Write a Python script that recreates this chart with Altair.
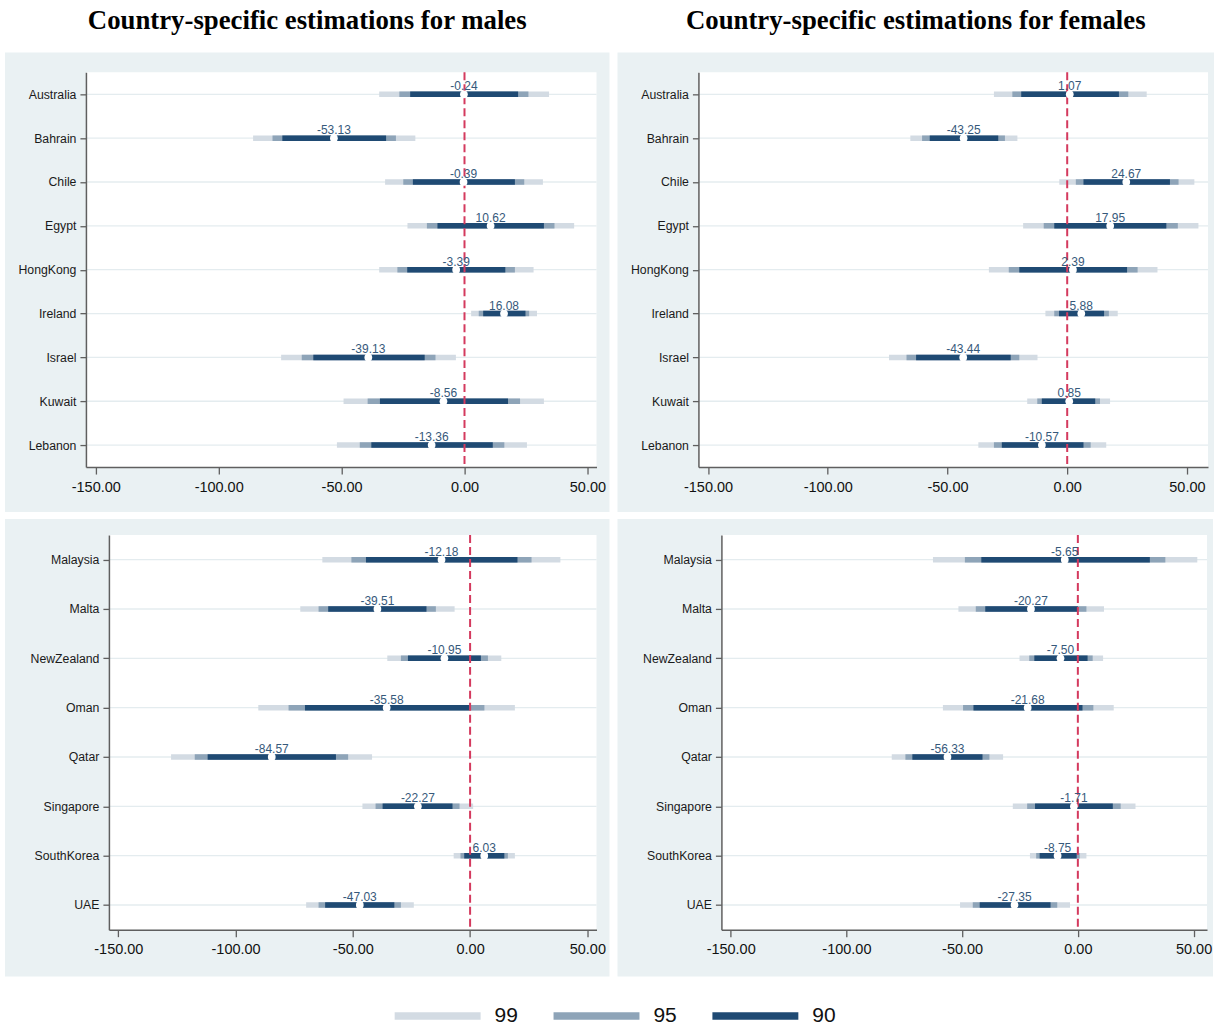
import altair as alt
import pandas as pd

# ---------------------------------------------------------------- data
countries_top = ["Australia", "Bahrain", "Chile", "Egypt", "HongKong",
                 "Ireland", "Israel", "Kuwait", "Lebanon"]
countries_bottom = ["Malaysia", "Malta", "NewZealand", "Oman", "Qatar",
                    "Singapore", "SouthKorea", "UAE"]

# males, first block of countries
m_top_est = [-0.24, -53.13, -0.39, 10.62, -3.39, 16.08, -39.13, -8.56, -13.36]
m_top_lo99 = [-34.7, -86.0, -32.3, -23.2, -34.7, 2.7, -74.6, -49.2, -51.9]
m_top_hi99 = [34.4, -20.0, 31.9, 44.6, 28.1, 29.5, -3.5, 32.3, 25.4]
m_top_lo95 = [-26.5, -78.1, -24.9, -15.3, -27.3, 5.8, -66.2, -39.4, -42.6]
m_top_hi95 = [26.0, -27.9, 24.3, 36.6, 20.5, 26.3, -11.8, 22.6, 16.2]
m_top_lo90 = [-22.1, -74.1, -21.0, -11.0, -23.3, 7.6, -61.5, -34.4, -37.9]
m_top_hi90 = [21.8, -31.9, 20.5, 32.3, 16.6, 24.8, -16.2, 17.7, 11.5]

# females, first block of countries
f_top_est = [1.07, -43.25, 24.67, 17.95, 2.39, 5.88, -43.44, 0.85, -10.57]
f_top_lo99 = [-30.6, -65.5, -3.3, -18.4, -32.7, -9.1, -74.4, -16.7, -37.1]
f_top_hi99 = [33.2, -20.8, 53.1, 54.8, 37.7, 21.1, -12.4, 17.9, 16.3]
f_top_lo95 = [-22.9, -60.6, 3.6, -9.8, -24.4, -5.4, -67.1, -12.5, -30.6]
f_top_hi95 = [25.5, -26.0, 46.5, 46.2, 29.4, 17.4, -20.0, 13.7, 9.8]
f_top_lo90 = [-19.2, -57.4, 6.8, -5.4, -20.0, -3.4, -63.1, -10.6, -27.3]
f_top_hi90 = [21.6, -28.8, 42.9, 41.4, 25.0, 15.4, -23.6, 11.7, 6.8]

# males, second block of countries
m_bot_est = [-12.18, -39.51, -10.95, -35.58, -84.57, -22.27, 6.03, -47.03]
m_bot_lo99 = [-63.0, -72.4, -35.3, -90.3, -127.5, -45.9, -7.0, -69.9]
m_bot_hi99 = [38.5, -6.6, 13.3, 19.1, -41.8, 1.3, 19.1, -24.0]
m_bot_lo95 = [-50.6, -64.6, -29.5, -77.4, -117.4, -40.3, -4.1, -64.6]
m_bot_hi95 = [26.2, -14.6, 7.6, 6.1, -52.0, -4.5, 16.1, -29.5]
m_bot_lo90 = [-44.4, -60.5, -26.5, -70.4, -111.9, -37.3, -2.5, -61.8]
m_bot_hi90 = [20.2, -18.6, 4.6, -0.3, -57.2, -7.5, 14.6, -32.3]

# females, second block of countries
f_bot_est = [-5.65, -20.27, -7.50, -21.68, -56.33, -1.71, -8.75, -27.35]
f_bot_lo99 = [-62.6, -51.6, -25.2, -58.3, -80.4, -28.1, -20.7, -50.9]
f_bot_hi99 = [51.6, 11.3, 10.9, 15.5, -32.3, 24.9, 3.7, -3.4]
f_bot_lo95 = [-48.8, -44.1, -21.0, -49.6, -74.5, -21.9, -18.0, -45.4]
f_bot_hi95 = [37.8, 3.7, 6.4, 6.7, -38.2, 18.5, 0.8, -8.9]
f_bot_lo90 = [-41.7, -40.0, -18.8, -45.1, -71.5, -18.5, -16.5, -42.4]
f_bot_hi90 = [31.1, 0.0, 4.2, 2.0, -41.2, 15.1, -0.5, -11.8]

x_ticks = [-150, -100, -50, 0, 50]
levels = ["99", "95", "90"]

# ---------------------------------------------------------------- style
SANS = "Liberation Sans"
SERIF = "Liberation Serif"
PANEL_BG = "#eaf1f3"
GRID = "#e4ecef"
AXIS_GRAY = "#5f5f5f"
LEVEL_COLORS = ["#d3dbe3", "#8ea4b8", "#1f4a73"]
ZERO_RED = "#d43a5e"
VALUE_TEXT = "#36597b"
HYPHEN_LABEL = "replace(format(datum.value, '.2f'), '\u2212', '-')"

legend = alt.Legend(
    title=None, orient="none", legendX=389, legendY=897.5,
    direction="horizontal", columns=3, symbolType="stroke",
    symbolSize=7396, symbolStrokeWidth=7.5, labelFont=SANS,
    labelFontSize=21, labelColor="#111111", labelOffset=10,
    columnPadding=20,
)

one = alt.Data(values=[{"k": 0}])


def interval_table(countries, lows, highs):
    rows = []
    for lvl, lo, hi in zip(levels, lows, highs):
        for c, a, b in zip(countries, lo, hi):
            rows.append({"country": c, "level": lvl, "lo": a, "hi": b})
    return pd.DataFrame(rows)


def panel(countries, est, lows, highs, x_domain, width, height, frame, title=None):
    left, right, top, bottom = frame
    xs = alt.Scale(domain=x_domain, nice=False, zero=False)
    ys = alt.Scale(type="point", padding=0.5, domain=countries)
    xaxis = alt.Axis(
        title=None, values=x_ticks, labelExpr=HYPHEN_LABEL, grid=False,
        labelFont=SANS, labelFontSize=14.5, labelColor="#111111",
        labelPadding=6, tickSize=7, tickColor=AXIS_GRAY, tickWidth=1.3,
        domainColor=AXIS_GRAY, domainWidth=1.5, zindex=1,
    )
    yaxis = alt.Axis(
        title=None, grid=False, labelFont=SANS, labelFontSize=12.3,
        labelColor="#1a1a1a", labelPadding=4, tickSize=6,
        tickColor=AXIS_GRAY, tickWidth=1.3, domainColor=AXIS_GRAY,
        domainWidth=1.5, zindex=1,
    )
    pts = pd.DataFrame({
        "country": countries,
        "est": est,
        "label": [f"{v:.2f}" for v in est],
    })
    ints = interval_table(countries, lows, highs)

    ych = alt.Y("country:N", scale=ys, axis=yaxis)

    frame_bg = alt.Chart(one).mark_rect(color=PANEL_BG).encode(
        x=alt.value(-left), x2=alt.value(width + right),
        y=alt.value(-top), y2=alt.value(height + bottom),
    )
    plot_bg = alt.Chart(one).mark_rect(color="white").encode(
        x=alt.value(0), x2=alt.value(width),
        y=alt.value(0), y2=alt.value(height),
    )
    grid = alt.Chart(pts).mark_rule(color=GRID, strokeWidth=1.3).encode(y=ych)
    bars = alt.Chart(ints).mark_rule(strokeWidth=5.5).encode(
        x=alt.X("lo:Q", scale=xs, axis=xaxis),
        x2="hi:Q",
        y=ych,
        color=alt.Color(
            "level:N",
            scale=alt.Scale(domain=levels, range=LEVEL_COLORS),
            legend=legend,
        ),
    )
    zero = alt.Chart(one).mark_rule(
        color=ZERO_RED, strokeWidth=2, strokeDash=[8, 4]
    ).encode(x=alt.X(datum=0, scale=xs, axis=xaxis))
    marker = alt.Chart(pts).mark_point(
        shape="circle", filled=True, color="white", opacity=1, size=60
    ).encode(x=alt.X("est:Q", scale=xs, axis=xaxis), y=ych)
    labels = alt.Chart(pts).mark_text(
        font=SANS, fontSize=12, color=VALUE_TEXT, baseline="alphabetic",
        align="center", dy=-4,
    ).encode(
        x=alt.X("est:Q", scale=xs, axis=xaxis), y=ych, text="label:N",
    )
    layers = [frame_bg, plot_bg, grid, bars, zero, marker, labels]
    if title:
        layers.append(
            alt.Chart(one).mark_text(
                text=title, font=SERIF, fontSize=26.8, fontWeight="bold",
                color="black", align="center", baseline="top",
            ).encode(
                x=alt.value((width + right - left) / 2), y=alt.value(-64.5)
            )
        )
    return alt.layer(*layers).properties(width=width, height=height)


def spacer():
    # invisible 1px column that pins the left edge of each row
    return alt.Chart(one).mark_rect(opacity=0).encode(
        x=alt.value(0), x2=alt.value(1), y=alt.value(0), y2=alt.value(1)
    ).properties(width=1, height=1)


tl = panel(countries_top, m_top_est,
           [m_top_lo99, m_top_lo95, m_top_lo90], [m_top_hi99, m_top_hi95, m_top_hi90],
           [-154, 53.7], 511, 395, (81, 13, 20, 45),
           "Country-specific estimations for males")
tr = panel(countries_top, f_top_est,
           [f_top_lo99, f_top_lo95, f_top_lo90], [f_top_hi99, f_top_hi95, f_top_hi90],
           [-154, 58.8], 510, 395, (81, 6, 20, 45),
           "Country-specific estimations for females")
bl = panel(countries_bottom, m_bot_est,
           [m_bot_lo99, m_bot_lo95, m_bot_lo90], [m_bot_hi99, m_bot_hi95, m_bot_hi90],
           [-154, 53.9], 488, 395, (104, 13, 16, 47))
br = panel(countries_bottom, f_bot_est,
           [f_bot_lo99, f_bot_lo95, f_bot_lo90], [f_bot_hi99, f_bot_hi95, f_bot_hi90],
           [-154, 55.8], 486, 395, (104, 6, 16, 47))

chart = alt.vconcat(
    alt.hconcat(spacer(), alt.hconcat(tl, tr, spacing=6), spacing=0),
    alt.hconcat(spacer(), alt.hconcat(bl, br, spacing=6), spacing=0),
    spacing=5,
).properties(
    padding={"left": 1, "top": 7, "right": 0, "bottom": 0},
    background="white",
).configure_view(stroke="transparent")

chart.save("out.html", embed_options={"renderer": "svg", "actions": False})
